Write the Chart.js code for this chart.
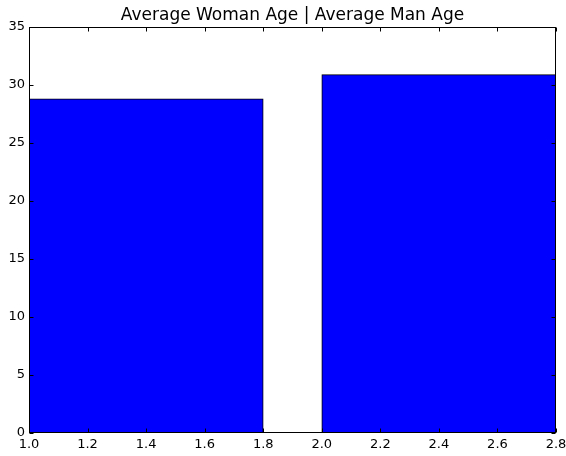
<!DOCTYPE html>
<html>
<head>
<meta charset="utf-8">
<script src="https://cdn.jsdelivr.net/npm/chart.js@4/dist/chart.umd.min.js"></script>
<style>
  html, body { margin: 0; padding: 0; background: #fff; }
  #wrap { width: 566px; height: 456px; }
</style>
</head>
<body>
<div id="wrap"><canvas id="c" width="566" height="456"></canvas></div>
<script>
// Left edge of each bar on the x axis, and the bar width
const barLefts = [1.0, 2.0];
const barWidth = 0.8;
// Average age per group
const groups = ['Average Woman Age', 'Average Man Age'];
const ages = [28.8, 30.9];
// Axis tick settings
const xTicks = { min: 1.0, max: 2.8, step: 0.2 };
const yTicks = { min: 0, max: 35, step: 5 };

const FONT = 'DejaVu Sans';

// Frame around the plot area plus inward tick marks on all four sides
const frameTicks = {
  id: 'frameTicks',
  afterDatasetsDraw(chart) {
    const { ctx, chartArea: a, scales } = chart;
    const L = Math.round(a.left) + 0.5, R = Math.round(a.right) - 0.5;
    const T = Math.round(a.top) + 0.5, B = Math.round(a.bottom) - 0.5;
    const len = 4;
    ctx.save();
    ctx.strokeStyle = '#000';
    ctx.lineWidth = 1;
    ctx.beginPath();
    scales.x.ticks.forEach(t => {
      const px = Math.round(scales.x.getPixelForValue(t.value)) + 0.5;
      ctx.moveTo(px, B); ctx.lineTo(px, B - len);
      ctx.moveTo(px, T); ctx.lineTo(px, T + len);
    });
    scales.y.ticks.forEach(t => {
      const py = Math.round(scales.y.getPixelForValue(t.value)) + 0.5;
      ctx.moveTo(L, py); ctx.lineTo(L + len, py);
      ctx.moveTo(R, py); ctx.lineTo(R - len, py);
    });
    ctx.stroke();
    ctx.strokeRect(L, T, R - L, B - T);
    ctx.restore();
  }
};

const points = barLefts.map((x, i) => ({ x: x + barWidth / 2, y: ages[i] }));

new Chart(document.getElementById('c'), {
  type: 'bar',
  data: {
    datasets: [{
      label: groups.join(' | '),
      data: points,
      backgroundColor: '#0000ff',
      borderColor: '#000000',
      borderWidth: 1,
      borderSkipped: false,
      barThickness: 'flex',
      categoryPercentage: 1.0,
      barPercentage: barWidth
    }]
  },
  options: {
    responsive: false,
    animation: false,
    layout: { padding: { left: 0, right: 10, top: 0, bottom: 0 } },
    plugins: {
      legend: { display: false },
      tooltip: { enabled: false },
      title: {
        display: true,
        text: groups.join(' | '),
        color: '#000',
        fullSize: false,
        font: { family: FONT, size: 17, weight: 'normal', lineHeight: 1.2 },
        padding: { top: 5, bottom: 1.6 }
      }
    },
    scales: {
      x: {
        type: 'linear',
        offset: false,
        min: xTicks.min,
        max: xTicks.max,
        grid: { display: false, drawTicks: false },
        border: { display: false },
        ticks: {
          stepSize: xTicks.step,
          autoSkip: false,
          maxRotation: 0,
          padding: 4,
          color: '#000',
          font: { family: FONT, size: 13 },
          callback: v => Number(v).toFixed(1)
        },
        afterFit(s) { s.height = 23; s.paddingLeft = 0; s.paddingRight = 0; }
      },
      y: {
        min: yTicks.min,
        max: yTicks.max,
        grid: { display: false, drawTicks: false },
        border: { display: false },
        ticks: {
          stepSize: yTicks.step,
          padding: 4,
          color: '#000',
          font: { family: FONT, size: 13 }
        },
        afterFit(s) { s.width = 29; s.paddingTop = 0; s.paddingBottom = 0; }
      }
    }
  },
  plugins: [frameTicks]
});
</script>
</body>
</html>
